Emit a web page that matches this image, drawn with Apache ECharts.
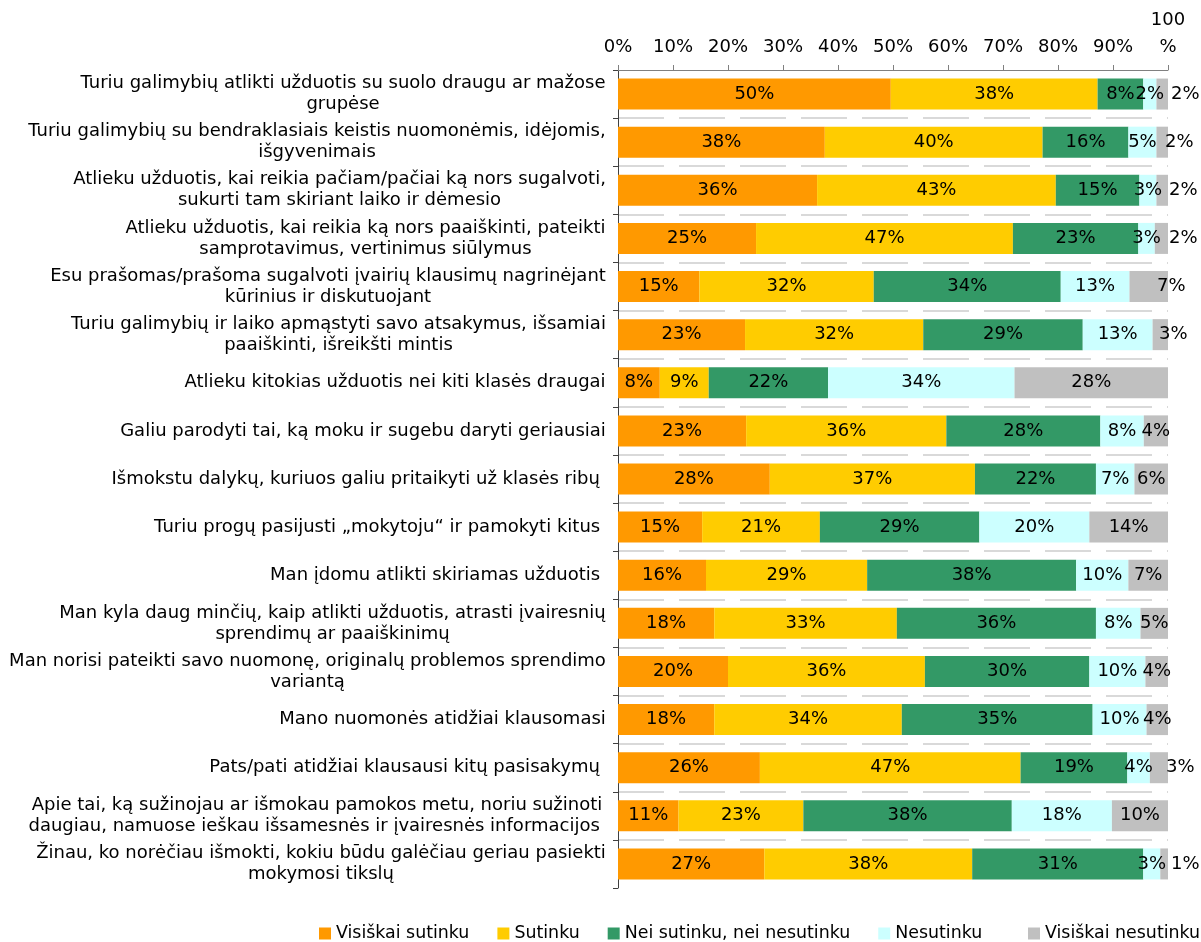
<!DOCTYPE html>
<html>
<head>
<meta charset="utf-8">
<script src="https://cdn.jsdelivr.net/npm/echarts@6/dist/echarts.min.js"></script>
<style>
html,body{margin:0;padding:0;background:#fff;}
#chart{width:1201px;height:942px;}
</style>
</head>
<body>
<div id="chart"></div>
<script>
const categories = [
  "Turiu galimybių atlikti užduotis su suolo draugu ar mažose\ngrupėse",
  "Turiu galimybių su bendraklasiais keistis nuomonėmis, idėjomis,\nišgyvenimais",
  "Atlieku užduotis, kai reikia pačiam/pačiai ką nors sugalvoti,\nsukurti tam skiriant laiko ir dėmesio",
  "Atlieku užduotis, kai reikia ką nors paaiškinti, pateikti\nsamprotavimus, vertinimus siūlymus",
  "Esu prašomas/prašoma sugalvoti įvairių klausimų nagrinėjant\nkūrinius ir diskutuojant",
  "Turiu galimybių ir laiko apmąstyti savo atsakymus, išsamiai\npaaiškinti, išreikšti mintis",
  "Atlieku kitokias užduotis nei kiti klasės draugai",
  "Galiu parodyti tai, ką moku ir sugebu daryti geriausiai",
  "Išmokstu dalykų, kuriuos galiu pritaikyti už klasės ribų ",
  "Turiu progų pasijusti „mokytoju“ ir pamokyti kitus ",
  "Man įdomu atlikti skiriamas užduotis ",
  "Man kyla daug minčių, kaip atlikti užduotis, atrasti įvairesnių\nsprendimų ar paaiškinimų",
  "Man norisi pateikti savo nuomonę, originalų problemos sprendimo\nvariantą",
  "Mano nuomonės atidžiai klausomasi",
  "Pats/pati atidžiai klausausi kitų pasisakymų ",
  "Apie tai, ką sužinojau ar išmokau pamokos metu, noriu sužinoti\ndaugiau, namuose ieškau išsamesnės ir įvairesnės informacijos ",
  "Žinau, ko norėčiau išmokti, kokiu būdu galėčiau geriau pasiekti\nmokymosi tikslų"
];
const seriesNames = ["Visiškai sutinku", "Sutinku", "Nei sutinku, nei nesutinku", "Nesutinku", "Visiškai nesutinku"];
const visiskaiSutinku   = [49.6, 37.6, 36.2, 25.1, 14.8, 23.1, 7.6, 23.3, 27.6, 15.3, 16.0, 17.5, 20.0, 17.5, 25.8, 11.0, 26.6];
const sutinku           = [37.6, 39.6, 43.4, 46.7, 31.7, 32.4, 8.9, 36.4, 37.3, 21.4, 29.3, 33.2, 35.8, 34.1, 47.4, 22.7, 37.8];
const neiSutinkuNei     = [8.3, 15.6, 15.2, 22.8, 34.0, 29.0, 21.7, 28.0, 22.0, 29.0, 38.0, 36.2, 29.9, 34.7, 19.4, 37.9, 31.1];
const nesutinku         = [2.4, 5.1, 3.1, 3.0, 12.5, 12.7, 33.9, 7.9, 7.0, 20.0, 9.5, 8.1, 10.2, 9.8, 4.1, 18.2, 3.1];
const visiskaiNesutinku = [2.1, 2.1, 2.1, 2.4, 7.0, 2.8, 27.9, 4.4, 6.1, 14.3, 7.2, 5.0, 4.1, 3.9, 3.3, 10.2, 1.4];
const xTicks = [0, 10, 20, 30, 40, 50, 60, 70, 80, 90, 100];

const FONT = '"DejaVu Sans", Verdana, sans-serif';
const FS = 18;
const colors = ['#FF9900', '#FFCC00', '#339966', '#CCFFFF', '#C0C0C0'];

// rich styles so that multi-line category labels are centred line by line
const ctx = document.createElement('canvas').getContext('2d');
ctx.font = FS + 'px "DejaVu Sans"';
const rich = {};
categories.forEach((c, i) => {
  const w = Math.max(...c.split('\n').map(l => ctx.measureText(l).width));
  rich['c' + i] = { width: Math.ceil(w), align: 'center', fontSize: FS, fontFamily: FONT, lineHeight: 21, color: '#000' };
});

// label placement tweaks for the last (small) segments, outside to the right
const lastLabelDistance = {0: 3, 1: -3, 2: 1, 3: 1, 4: -11, 5: -9, 14: -2, 16: 3};

const allData = [visiskaiSutinku, sutinku, neiSutinkuNei, nesutinku, visiskaiNesutinku];
const series = allData.map((arr, si) => ({
  name: seriesNames[si],
  type: 'bar',
  stack: 'total',
  barWidth: 31,
  itemStyle: { color: colors[si] },
  label: {
    show: true, position: 'inside', color: '#000', fontSize: FS, fontFamily: FONT,
    formatter: p => Math.round(p.value) + '%'
  },
  data: arr.map((v, i) => {
    if (si === 4 && lastLabelDistance[i] !== undefined) {
      return { value: v, label: { position: 'right', distance: lastLabelDistance[i] } };
    }
    return v;
  })
}));

const legendBase = {
  top: 925, padding: 0,
  icon: 'rect', itemWidth: 12, itemHeight: 12, itemGap: 28,
  textStyle: { fontSize: 17.4, fontFamily: FONT, color: '#000' }
};

const chart = echarts.init(document.getElementById('chart'), null, { renderer: 'canvas' });
chart.setOption({
  animation: false,
  grid: { left: 618, right: 33, top: 70, bottom: 54, containLabel: false },
  legend: [
    Object.assign({}, legendBase, { data: seriesNames.slice(0, 4), left: 319 }),
    Object.assign({}, legendBase, { data: seriesNames.slice(4), left: 1028 })
  ],
  xAxis: {
    type: 'value', position: 'top', min: 0, max: 100, interval: 10,
    axisLine: { show: true, lineStyle: { color: '#808080', width: 1 } },
    axisTick: { show: true, length: 5, lineStyle: { color: '#808080' } },
    splitLine: { show: false },
    axisLabel: {
      color: '#000', fontSize: FS, fontFamily: FONT, margin: 9, lineHeight: 27,
      formatter: v => xTicks.indexOf(v) < 0 ? '' : (v === 100 ? '100\n%' : v + '%')
    }
  },
  yAxis: {
    type: 'category', inverse: true, data: categories,
    axisLine: { show: true, lineStyle: { color: '#404040', width: 1 } },
    axisTick: { show: true, length: 5, lineStyle: { color: '#404040' } },
    splitLine: { show: true, showMinLine: false, showMaxLine: false, lineStyle: { color: '#d9d9d9', width: 2, type: [46, 15] } },
    axisLabel: {
      margin: 12, interval: 0,
      formatter: (val, idx) => val.split('\n').map(l => '{c' + idx + '|' + l + '}').join('\n'),
      rich: rich
    }
  },
  series: series
});
</script>
</body>
</html>
